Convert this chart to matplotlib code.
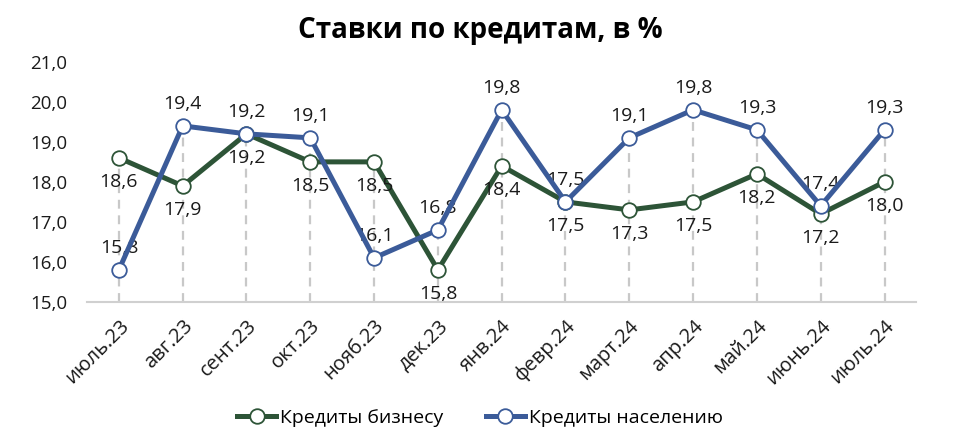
import numpy as np
import matplotlib.pyplot as plt

plt.rcParams['font.family'] = ['Open Sans', 'DejaVu Sans']

months = ['июль.23', 'авг.23', 'сент.23', 'окт.23', 'нояб.23', 'дек.23', 'янв.24',
          'февр.24', 'март.24', 'апр.24', 'май.24', 'июнь.24', 'июль.24']
business = [18.6, 17.9, 19.2, 18.5, 18.5, 15.8, 18.4, 17.5, 17.3, 17.5, 18.2, 17.2, 18.0]
households = [15.8, 19.4, 19.2, 19.1, 16.1, 16.8, 19.8, 17.5, 19.1, 19.8, 19.3, 17.4, 19.3]

green = '#2d5437'
blue = '#3b5b99'

fig = plt.figure(figsize=(9.6, 4.48), dpi=100)
ax = fig.add_axes([0.0906, 0.326, 0.864, 0.536])

x = np.arange(len(months))
top = np.maximum(business, households)
ax.vlines(x, 15, top, colors='#c8c8c8', linestyles=(0, (4, 3)), linewidth=1.6, zorder=1)

ax.plot(x, business, color=green, lw=3.6, marker='o', ms=10.5, mfc='white',
        mec=green, mew=1.3, label='Кредиты бизнесу', zorder=3)
ax.plot(x, households, color=blue, lw=3.6, marker='o', ms=10.5, mfc='white',
        mec=blue, mew=1.3, label='Кредиты населению', zorder=4)

for xi, v in zip(x, business):
    ax.annotate(f'{v:.1f}'.replace('.', ','), (xi, v), xytext=(0, -11),
                textcoords='offset points', ha='center', va='top', fontsize=14, color='#1a1a1a')
for xi, v in zip(x, households):
    ax.annotate(f'{v:.1f}'.replace('.', ','), (xi, v), xytext=(0, 9),
                textcoords='offset points', ha='center', va='bottom', fontsize=14, color='#1a1a1a')

ax.set_xlim(-0.5, len(months) - 0.5)
ax.set_ylim(15, 21)
ax.set_yticks(np.arange(15, 21.1, 1))
ax.set_yticklabels([f'{v:.1f}'.replace('.', ',') for v in np.arange(15, 21.1, 1)], fontsize=13.5)
ax.set_xticks(x)
ax.set_xticklabels(months, rotation=45, ha='right', rotation_mode='anchor', fontsize=14.5)
ax.tick_params(length=0, colors='#1a1a1a')
ax.tick_params(axis='x', pad=10)
ax.tick_params(axis='y', pad=14)
for s in ['top', 'right', 'left']:
    ax.spines[s].set_visible(False)
ax.spines['bottom'].set_color('#d0d0d0')
ax.spines['bottom'].set_linewidth(1.5)

fig.suptitle('Ставки по кредитам, в %', fontsize=20, fontweight='bold', y=0.965)
fig.legend(loc='center', bbox_to_anchor=(0.5, 0.067), ncol=2, frameon=False,
           fontsize=14, handlelength=2.0, columnspacing=2.2, handletextpad=0.2)

fig.savefig('out.png', dpi=100)
